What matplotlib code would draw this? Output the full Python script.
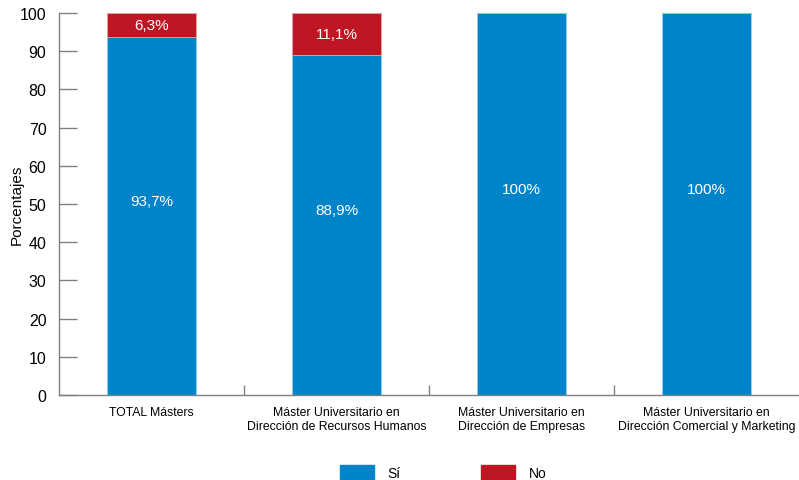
import numpy as np
import matplotlib.pyplot as plt
from matplotlib.patches import Patch

plt.rcParams['font.family'] = ['Liberation Sans Narrow', 'Liberation Sans', 'DejaVu Sans']

categories = ['TOTAL Másters',
              'Máster Universitario en\nDirección de Recursos Humanos',
              'Máster Universitario en\nDirección de Empresas',
              'Máster Universitario en\nDirección Comercial y Marketing']
si = [93.7, 88.9, 100.0, 100.0]
no = [6.3, 11.1, 0.0, 0.0]
si_labels = ['93,7%', '88,9%', '100%', '100%']
no_labels = ['6,3%', '11,1%', '', '']

blue = '#0084C9'
red = '#BE1622'
grey = '#808080'

fig = plt.figure(figsize=(7.99, 4.81), dpi=100)
ax = fig.add_axes([0.0738, 0.1767, 0.9262, 0.7942])

x = np.arange(len(categories))
w = 0.48
ax.bar(x, si, w, color=blue, edgecolor='#9fd0ee', linewidth=0.6)
ax.bar(x, no, w, bottom=si, color=red, edgecolor='#e8a0a5', linewidth=0.6)

for i in range(len(x)):
    ax.text(x[i], si[i] / 2 + 4, si_labels[i], color='white', ha='center', va='center',
            fontsize=11)
    if no[i] > 0:
        ax.text(x[i], si[i] + no[i] / 2, no_labels[i], color='white', ha='center',
                va='center', fontsize=11)

ax.set_xlim(-0.5, len(categories) - 0.5)
ax.set_ylim(0, 100)
ax.set_yticks(range(0, 101, 10))
ax.tick_params(axis='y', direction='in', length=13, width=1, color=grey,
               labelsize=11.5, pad=9)
ax.set_xticks(x)
ax.set_xticklabels(categories, fontsize=8.8, linespacing=1.25)
ax.tick_params(axis='x', length=0, pad=8)
ax.set_xticks(np.arange(0.5, len(categories) - 0.5), minor=True)
ax.tick_params(axis='x', which='minor', direction='in', length=7, width=1, color=grey)

for s in ['top', 'right']:
    ax.spines[s].set_visible(False)
for s in ['left', 'bottom']:
    ax.spines[s].set_color(grey)
    ax.spines[s].set_linewidth(1)

ax.set_ylabel('Porcentajes', fontsize=11)
ax.yaxis.set_label_coords(-0.048, 0.5)

handles = [Patch(color=blue, label='Sí'), Patch(color=red, label='No')]
fig.legend(handles=handles, loc='lower center', bbox_to_anchor=(0.555, -0.025), ncol=2,
           frameon=False, handlelength=2.45, handleheight=1.15, columnspacing=5.8,
           handletextpad=1.0, fontsize=10)

fig.savefig('out.png', dpi=100)
